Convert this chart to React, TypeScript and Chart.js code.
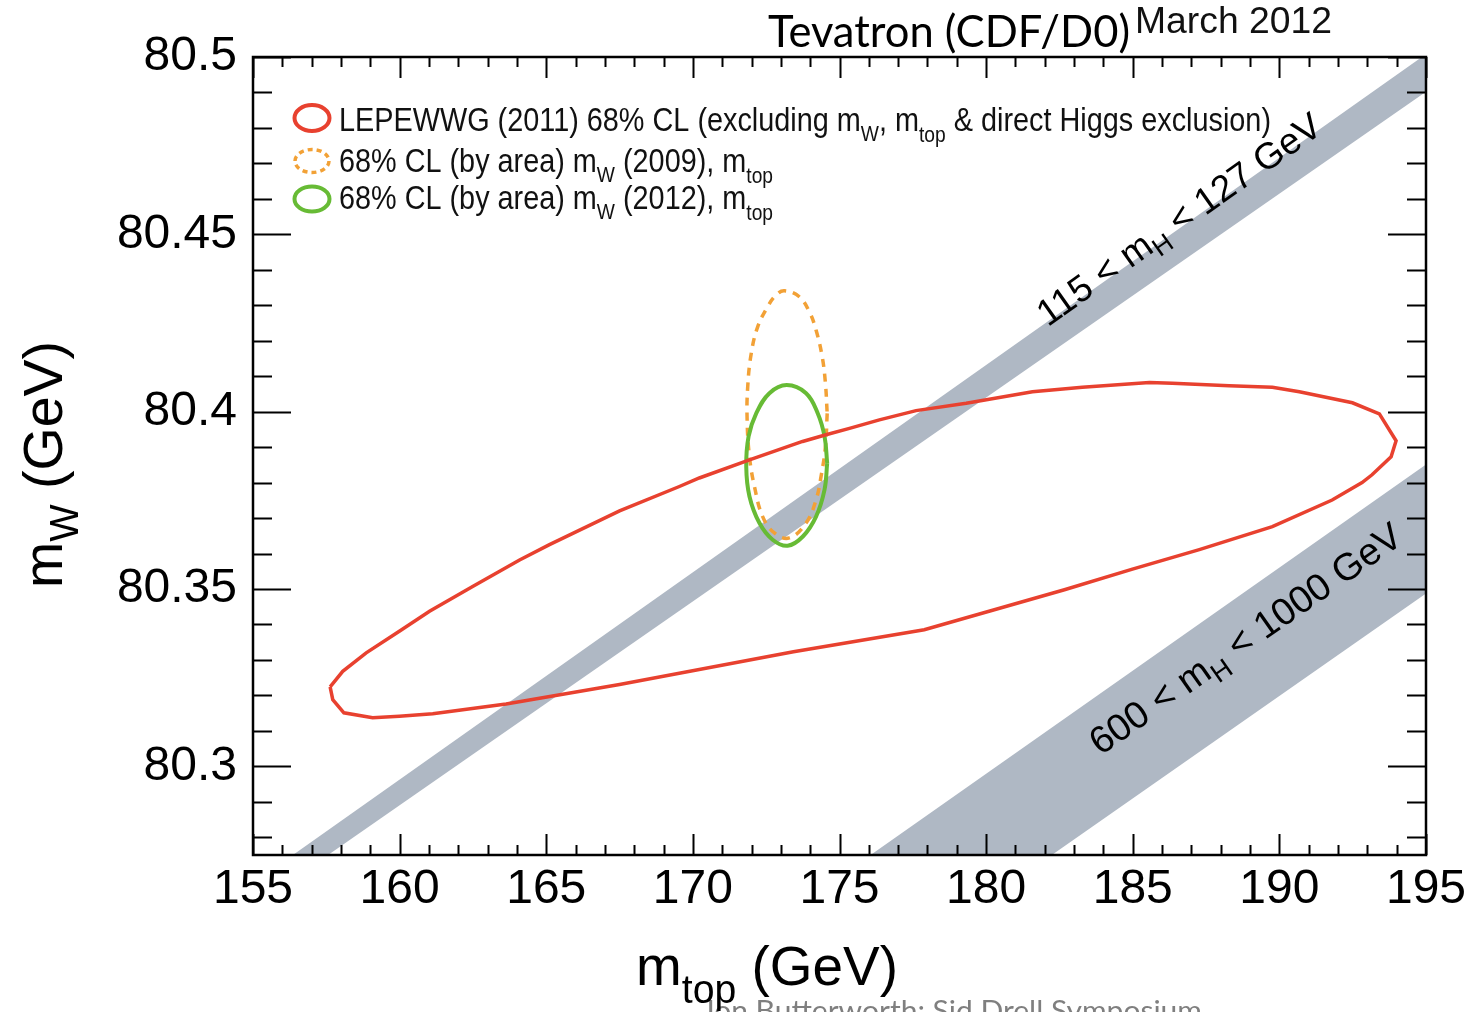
import React, { useEffect, useRef } from "react";
import { Chart, registerables } from "chart.js";

Chart.register(...registerables);

// ---------- axes ----------
const X_MIN = 155;
const X_MAX = 195;
const Y_MIN = 80.275;
const Y_MAX = 80.5;
const xTickValues = [155, 160, 165, 170, 175, 180, 185, 190, 195];
const xTickLabels = ["155", "160", "165", "170", "175", "180", "185", "190", "195"];
const yTickValues = [80.3, 80.35, 80.4, 80.45, 80.5];
const yTickLabels = ["80.3", "80.35", "80.4", "80.45", "80.5"];

// ---------- LEPEWWG (2011) 68% CL contour ----------
const lepMtop = [157.63, 157.72, 158.10, 159.08, 159.99, 161.13, 163.63, 167.50, 173.43, 177.89, 182.67, 184.99, 187.27, 189.76, 191.80, 192.82, 193.16, 193.81, 193.98, 193.41, 192.49, 190.68, 189.76, 188.29, 186.35, 185.57, 183.28, 181.58, 179.32, 177.61, 176.36, 175.34, 174.54, 173.74, 171.93, 170.22, 169.54, 167.50, 165.11, 164.09, 162.49, 161.02, 159.99, 158.86, 158.06, 157.63];
const lepMw = [80.3224, 80.3188, 80.3151, 80.3137, 80.3141, 80.3148, 80.3176, 80.3231, 80.3323, 80.3385, 80.3498, 80.3556, 80.3611, 80.3676, 80.3751, 80.3800, 80.3822, 80.3873, 80.3918, 80.3994, 80.4025, 80.4056, 80.4069, 80.4073, 80.4080, 80.4082, 80.4069, 80.4056, 80.4024, 80.4003, 80.3977, 80.3953, 80.3935, 80.3916, 80.3864, 80.3813, 80.3789, 80.3720, 80.3625, 80.3582, 80.3507, 80.3437, 80.3381, 80.3320, 80.3268, 80.3224];

// ---------- 68% CL (by area) mW (2012), mtop ----------
const mw2012Mtop = [174.58, 174.49, 174.20, 173.75, 173.23, 172.72, 172.27, 171.93, 171.82, 171.90, 172.16, 172.61, 173.20, 173.86, 174.26, 174.49, 174.58];
const mw2012Mw = [80.3855, 80.3780, 80.3704, 80.3648, 80.3622, 80.3639, 80.3686, 80.3761, 80.3845, 80.3930, 80.3995, 80.4052, 80.4075, 80.4052, 80.3995, 80.3930, 80.3855];

// ---------- 68% CL (by area) mW (2009), mtop ----------
const mw2009Mtop = [174.58, 174.52, 174.37, 174.20, 173.86, 173.29, 172.78, 172.38, 172.10, 171.93, 171.85, 171.87, 171.99, 172.21, 172.55, 172.84, 173.12, 173.63, 173.97, 174.20, 174.41, 174.52, 174.58];
const mw2009Mw = [80.3995, 80.3901, 80.3817, 80.3751, 80.3686, 80.3644, 80.3658, 80.3704, 80.3789, 80.3873, 80.3977, 80.4070, 80.4164, 80.4239, 80.4296, 80.4329, 80.4341, 80.4324, 80.4282, 80.4230, 80.4155, 80.4080, 80.3995];

// ---------- SM bands ----------
const band115Mtop = [156.36, 194.86, 195.0, 195.0, 157.56, 156.36];
const band115Mw = [80.275, 80.5, 80.5, 80.4902, 80.275, 80.275];
const band600Mtop = [176.06, 195.0, 195.0, 182.24, 176.06];
const band600Mw = [80.275, 80.3851, 80.3487, 80.275, 80.275];

// label anchors (data coords, baseline start)
const band115Label = { mtop: 182.1, mw: 80.4238 };
const band600Label = { mtop: 183.9, mw: 80.3029 };

const RED = "#e8412f";
const GREEN = "#67bb35";
const ORANGE = "#f2a136";
const BAND = "#afb8c4";
const FONT = "'Liberation Sans', Arial, Helvetica, sans-serif";
const TITLE_FONT = "Lato, 'Liberation Sans', sans-serif";

const zip = (xs: number[], ys: number[]) => xs.map((x, i) => ({ x, y: ys[i] }));

type Seg = [string, number, number];

function drawRich(
  ctx: CanvasRenderingContext2D,
  segs: Seg[],
  x: number,
  y: number,
  opts: { family: string; color: string; width?: number; angle?: number; weight?: string }
) {
  ctx.save();
  ctx.translate(x, y);
  if (opts.angle) ctx.rotate(opts.angle);
  const w8 = opts.weight ? opts.weight + " " : "";
  let w = 0;
  for (const [t, s] of segs) {
    ctx.font = `${w8}${s}px ${opts.family}`;
    w += ctx.measureText(t).width;
  }
  const sx = opts.width ? opts.width / w : 1;
  ctx.scale(sx, 1);
  ctx.fillStyle = opts.color;
  ctx.textAlign = "left";
  ctx.textBaseline = "alphabetic";
  let cx = 0;
  for (const [t, s, dy] of segs) {
    ctx.font = `${w8}${s}px ${opts.family}`;
    ctx.fillText(t, cx, dy);
    cx += ctx.measureText(t).width;
  }
  ctx.restore();
}

const decorPlugin = {
  id: "decor",
  beforeDraw(chart: any) {
    const ctx = chart.ctx as CanvasRenderingContext2D;
    ctx.save();
    ctx.fillStyle = "#ffffff";
    ctx.fillRect(0, 0, chart.width, chart.height);
    ctx.restore();
  },
  afterDatasetsDraw(chart: any) {
    const ctx = chart.ctx as CanvasRenderingContext2D;
    const { left, right, top, bottom } = chart.chartArea;
    const xs = chart.scales.x;
    const ys = chart.scales.y;

    // band labels
    const angle1 = Math.atan2(
      ys.getPixelForValue(band115Mw[1]) - ys.getPixelForValue(band115Mw[0]),
      xs.getPixelForValue(band115Mtop[1]) - xs.getPixelForValue(band115Mtop[0])
    );
    drawRich(
      ctx,
      [["115 < m", 37, 0], ["H", 26, 8], [" < 127 GeV", 37, 0]],
      xs.getPixelForValue(band115Label.mtop),
      ys.getPixelForValue(band115Label.mw),
      { family: FONT, color: "#000", angle: angle1 }
    );
    const angle2 = Math.atan2(
      ys.getPixelForValue(band600Mw[1]) - ys.getPixelForValue(band600Mw[0]),
      xs.getPixelForValue(band600Mtop[1]) - xs.getPixelForValue(band600Mtop[0])
    );
    drawRich(
      ctx,
      [["600 < m", 38, 0], ["H", 27, 9], [" < 1000 GeV", 38, 0]],
      xs.getPixelForValue(band600Label.mtop),
      ys.getPixelForValue(band600Label.mw),
      { family: FONT, color: "#000", angle: angle2 }
    );

    // ticks
    ctx.save();
    ctx.strokeStyle = "#000";
    ctx.lineWidth = 2;
    ctx.beginPath();
    for (let v = X_MIN; v <= X_MAX; v += 1) {
      const px = Math.round(xs.getPixelForValue(v)) + 0.5;
      const len = v % 5 === 0 ? 21 : 10;
      ctx.moveTo(px, bottom);
      ctx.lineTo(px, bottom - len);
      ctx.moveTo(px, top);
      ctx.lineTo(px, top + len);
    }
    for (let k = 8028; k <= 8050; k++) {
      const py = Math.round(ys.getPixelForValue(k / 100)) + 0.5;
      const len = k % 5 === 0 ? 38 : 19;
      ctx.moveTo(left, py);
      ctx.lineTo(left + len, py);
      ctx.moveTo(right, py);
      ctx.lineTo(right - len, py);
    }
    ctx.stroke();
    ctx.lineWidth = 2.5;
    ctx.strokeRect(left, top, right - left, bottom - top);
    ctx.restore();

    // legend
    ctx.save();
    ctx.lineWidth = 4;
    ctx.strokeStyle = RED;
    ctx.beginPath();
    ctx.ellipse(312, 118, 17.5, 13, 0, 0, Math.PI * 2);
    ctx.stroke();
    ctx.strokeStyle = ORANGE;
    ctx.lineWidth = 3.5;
    ctx.setLineDash([5, 4]);
    ctx.beginPath();
    ctx.ellipse(312, 161, 17, 11.5, 0, 0, Math.PI * 2);
    ctx.stroke();
    ctx.setLineDash([]);
    ctx.strokeStyle = GREEN;
    ctx.lineWidth = 4;
    ctx.beginPath();
    ctx.ellipse(312, 199, 17.5, 12.5, 0, 0, Math.PI * 2);
    ctx.stroke();
    ctx.restore();

    drawRich(
      ctx,
      [
        ["LEPEWWG (2011) 68% CL (excluding m", 33, 0],
        ["W", 22, 10],
        [", m", 33, 0],
        ["top", 22, 11],
        [" & direct Higgs exclusion)", 33, 0],
      ],
      339, 131, { family: FONT, color: "#111", width: 932 }
    );
    drawRich(
      ctx,
      [["68% CL (by area) m", 33, 0], ["W", 22, 10], [" (2009), m", 33, 0], ["top", 22, 11]],
      339, 172, { family: FONT, color: "#111", width: 434 }
    );
    drawRich(
      ctx,
      [["68% CL (by area) m", 33, 0], ["W", 22, 10], [" (2012), m", 33, 0], ["top", 22, 11]],
      339, 209, { family: FONT, color: "#111", width: 434 }
    );

    // titles
    drawRich(ctx, [["Tevatron (CDF/D0)", 44, 0]], 768, 47, { family: TITLE_FONT, color: "#000", width: 362 });
    drawRich(ctx, [["March 2012", 36, 0]], 1135, 33, { family: FONT, color: "#111", width: 197 });

    // footer (slide text)
    drawRich(ctx, [["Jon Butterworth: Sid Drell Symposium", 28, 0]], 702, 1021, { family: TITLE_FONT, color: "#7f7f7f", width: 500 });

    // axis titles
    drawRich(ctx, [["m", 56, 0], ["top", 40, 18], [" (GeV)", 56, 0]], 636, 985, { family: FONT, color: "#000", width: 262 });
    drawRich(ctx, [["m", 56, 0], ["W", 40, 16], [" (GeV)", 56, 0]], 62, 588, { family: FONT, color: "#000", width: 247, angle: -Math.PI / 2 });
  },
};

export default function App() {
  const ref = useRef<HTMLCanvasElement | null>(null);
  useEffect(() => {
    const canvas = ref.current;
    if (!canvas) return;
    const chart = new Chart(canvas, {
      type: "scatter",
      data: {
        datasets: [
          {
            label: "LEPEWWG (2011) 68% CL",
            data: zip(lepMtop, lepMw),
            showLine: true,
            borderColor: RED,
            borderWidth: 3.5,
            pointRadius: 0,
            tension: 0,
            fill: false,
            order: 0,
          },
          {
            label: "68% CL mW (2012), mtop",
            data: zip(mw2012Mtop, mw2012Mw),
            showLine: true,
            borderColor: GREEN,
            borderWidth: 4,
            pointRadius: 0,
            tension: 0.4,
            fill: false,
            order: 1,
          },
          {
            label: "68% CL mW (2009), mtop",
            data: zip(mw2009Mtop, mw2009Mw),
            showLine: true,
            borderColor: ORANGE,
            borderWidth: 3.5,
            borderDash: [8, 7],
            pointRadius: 0,
            tension: 0.4,
            fill: false,
            order: 2,
          },
          {
            label: "115 < mH < 127 GeV",
            data: zip(band115Mtop, band115Mw),
            showLine: true,
            borderColor: "rgba(0,0,0,0)",
            borderWidth: 1,
            backgroundColor: BAND,
            pointRadius: 0,
            tension: 0,
            fill: "shape",
            clip: 0,
            order: 3,
          },
          {
            label: "600 < mH < 1000 GeV",
            data: zip(band600Mtop, band600Mw),
            showLine: true,
            borderColor: "rgba(0,0,0,0)",
            borderWidth: 1,
            backgroundColor: BAND,
            pointRadius: 0,
            tension: 0,
            fill: "shape",
            clip: 0,
            order: 4,
          },
        ],
      } as any,
      options: {
        responsive: false,
        animation: false,
        devicePixelRatio: 1,
        events: [],
        layout: { padding: { left: 0, top: 57, right: 42, bottom: 0 } },
        plugins: {
          legend: { display: false },
          tooltip: { enabled: false },
          title: { display: false },
        },
        scales: {
          x: {
            type: "linear",
            position: "bottom",
            min: X_MIN,
            max: X_MAX,
            grid: { display: false, drawTicks: false },
            border: { display: false },
            afterBuildTicks: (s: any) => {
              s.ticks = xTickValues.map((v) => ({ value: v }));
            },
            afterFit: (s: any) => {
              s.height = 157;
              s.paddingLeft = 0;
              s.paddingRight = 0;
            },
            ticks: {
              callback: (v: any) => xTickLabels[xTickValues.indexOf(Number(v))] ?? "",
              font: { size: 48, family: FONT },
              color: "#000",
              padding: 6,
              maxRotation: 0,
              autoSkip: false,
            },
          },
          y: {
            type: "linear",
            position: "left",
            min: Y_MIN,
            max: Y_MAX,
            grid: { display: false, drawTicks: false },
            border: { display: false },
            afterBuildTicks: (s: any) => {
              s.ticks = yTickValues.map((v) => ({ value: v }));
            },
            afterFit: (s: any) => {
              s.width = 253;
              s.paddingTop = 0;
              s.paddingBottom = 0;
            },
            ticks: {
              callback: (v: any) => yTickLabels[yTickValues.indexOf(Number(v))] ?? "",
              font: { size: 48, family: FONT },
              color: "#000",
              padding: 16,
              autoSkip: false,
            },
          },
        },
      } as any,
      plugins: [decorPlugin],
    });
    return () => chart.destroy();
  }, []);

  return (
    <div style={{ position: "fixed", left: 0, top: 0, width: 1468, height: 1012, background: "#fff" }}>
      <canvas ref={ref} width={1468} height={1012} style={{ display: "block", width: 1468, height: 1012 }} />
    </div>
  );
}
